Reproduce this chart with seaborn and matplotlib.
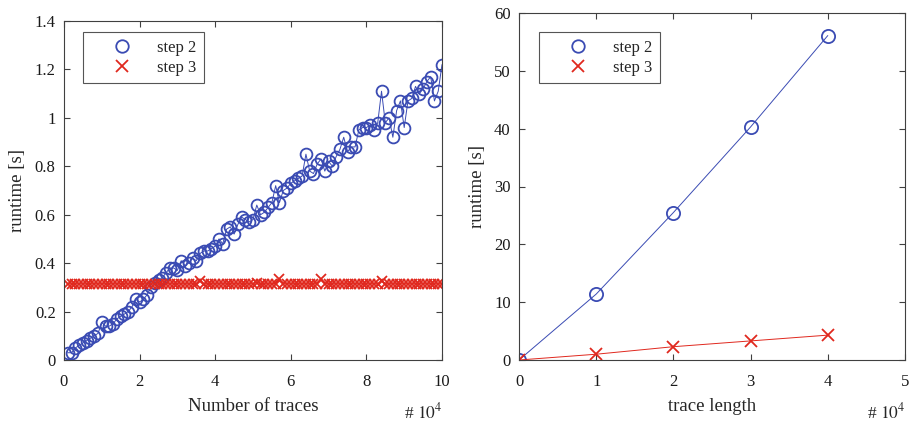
import numpy as np
import pandas as pd
import matplotlib
matplotlib.use("Agg")
import matplotlib.pyplot as plt
from matplotlib.lines import Line2D
from matplotlib.ticker import FuncFormatter
import seaborn as sns

# ---------------- data ----------------
traces_x = [round(0.1 * i, 1) for i in range(1, 101)]  # x 10^4
step2_traces = [
    0.03, 0.03, 0.05, 0.06, 0.07, 0.08, 0.09, 0.10, 0.11, 0.155,
    0.14, 0.14, 0.15, 0.17, 0.18, 0.19, 0.20, 0.22, 0.25, 0.24,
    0.25, 0.27, 0.30, 0.32, 0.33, 0.34, 0.36, 0.38, 0.38, 0.37,
    0.41, 0.39, 0.40, 0.42, 0.41, 0.44, 0.45, 0.45, 0.46, 0.47,
    0.50, 0.48, 0.54, 0.55, 0.52, 0.56, 0.59, 0.58, 0.57, 0.58,
    0.64, 0.60, 0.61, 0.63, 0.65, 0.72, 0.65, 0.70, 0.71, 0.73,
    0.74, 0.75, 0.76, 0.85, 0.78, 0.77, 0.81, 0.83, 0.78, 0.82,
    0.80, 0.84, 0.87, 0.92, 0.86, 0.88, 0.88, 0.95, 0.96, 0.96,
    0.97, 0.95, 0.98, 1.11, 0.98, 1.00, 0.92, 1.03, 1.07, 0.96,
    1.07, 1.08, 1.13, 1.10, 1.12, 1.15, 1.17, 1.07, 1.11, 1.22,
]
step3_traces = [0.315] * 100
step3_traces[35] = 0.325
step3_traces[50] = 0.32
step3_traces[56] = 0.333
step3_traces[67] = 0.333
step3_traces[83] = 0.325

length_x = [0, 1, 2, 3, 4]  # x 10^4
step2_length = [0.0, 11.4, 25.5, 40.3, 56.1]
step3_length = [0.0, 1.0, 2.3, 3.3, 4.3]

legend_labels = ["step 2", "step 3"]

# ---------------- style ----------------
sns.set_style("ticks")
plt.rcParams["font.family"] = ["Liberation Serif", "DejaVu Serif"]
plt.rcParams["mathtext.fontset"] = "stix"
plt.rcParams["axes.edgecolor"] = "#404040"
plt.rcParams["axes.linewidth"] = 0.8
plt.rcParams["xtick.color"] = "#404040"
plt.rcParams["ytick.color"] = "#404040"
plt.rcParams["xtick.labelcolor"] = "#1a1a1a"
plt.rcParams["ytick.labelcolor"] = "#1a1a1a"

BLUE = "#3a4bb3"
RED = "#e0281e"

fig = plt.figure(figsize=(9.18, 4.22), dpi=100)
ax1 = fig.add_axes([64 / 918, 62 / 422, 378 / 918, 339 / 422])
ax2 = fig.add_axes([519 / 918, 62 / 422, 386 / 918, 347 / 422])

df1 = pd.DataFrame({"x": traces_x, "s2": step2_traces, "s3": step3_traces})
df2 = pd.DataFrame({"x": length_x, "s2": step2_length, "s3": step3_length})

def draw(ax, df, ms):
    sns.lineplot(data=df, x="x", y="s2", ax=ax, color=BLUE, linewidth=0.7,
                 marker="o", markersize=ms, markerfacecolor="none",
                 markeredgecolor=BLUE, markeredgewidth=1.3)
    sns.lineplot(data=df, x="x", y="s3", ax=ax, color=RED, linewidth=0.7,
                 marker="x", markersize=ms * 0.85, markeredgecolor=RED,
                 markeredgewidth=1.3)

draw(ax1, df1, 8.5)
draw(ax2, df2, 9.5)

fmt = FuncFormatter(lambda v, p: "%g" % round(v, 6))
for ax in (ax1, ax2):
    ax.tick_params(direction="in", top=True, right=True, length=4,
                   width=0.8, labelsize=12)
    ax.tick_params(axis="x", pad=10)
    ax.tick_params(axis="y", pad=6)
    ax.xaxis.set_major_formatter(fmt)
    ax.yaxis.set_major_formatter(fmt)
    for s in ax.spines.values():
        s.set_visible(True)
    ax.set_ylabel("runtime [s]", fontsize=13.5, labelpad=6)

ax1.set_xlim(0, 10)
ax1.set_ylim(0, 1.4)
ax1.set_xticks(np.arange(0, 11, 2))
ax1.set_yticks(np.arange(0, 1.41, 0.2))
ax1.set_xlabel("Number of traces", fontsize=13.5, labelpad=6)

ax2.set_xlim(0, 5)
ax2.set_ylim(0, 60)
ax2.set_xticks(np.arange(0, 6, 1))
ax2.set_yticks(np.arange(0, 61, 10))
ax2.set_xlabel("trace length", fontsize=13.5, labelpad=6)

for ax in (ax1, ax2):
    bbox = ax.get_position()
    y_fig = 3.5 / 422
    fig.text(bbox.x1, y_fig, r"# $10^4$", ha="right", va="baseline",
             fontsize=12.5)

handles = [
    Line2D([], [], linestyle="none", marker="o", markersize=9,
           markerfacecolor="none", markeredgecolor=BLUE, markeredgewidth=1.3),
    Line2D([], [], linestyle="none", marker="x", markersize=8,
           markeredgecolor=RED, markeredgewidth=1.3),
]
for ax, loc in ((ax1, (0.05, 0.967)), (ax2, (0.052, 0.945))):
    leg = ax.legend(handles, legend_labels, loc="upper left",
                    bbox_to_anchor=loc, fontsize=12, frameon=True,
                    fancybox=False, handlelength=3.8, handletextpad=0.2,
                    borderpad=0.45, labelspacing=0.25, borderaxespad=0)
    leg.get_frame().set_edgecolor("#555555")
    leg.get_frame().set_linewidth(0.8)
    leg.get_frame().set_alpha(1)

fig.savefig("out.png", dpi=100)
